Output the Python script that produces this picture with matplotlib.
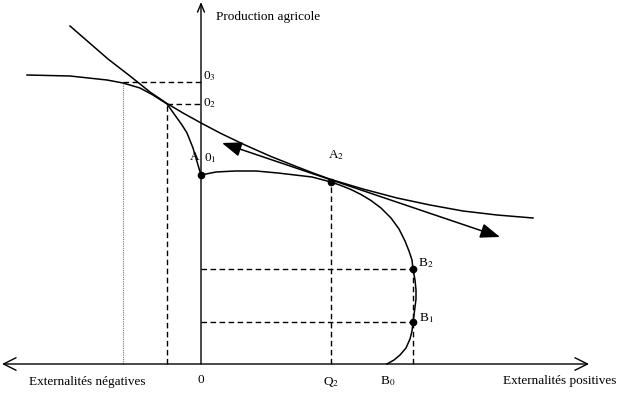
import matplotlib.pyplot as plt

plt.rcParams['font.family'] = ['Liberation Serif', 'DejaVu Serif']
plt.rcParams['mathtext.fontset'] = 'stix'

# frontier (left branch down to A, then right branch down to B0)
frontier_x = [-174, -131, -94, -78, -61, -48, -34, -24, -19, -14, -8, -3, 0,
              15, 34, 55, 77, 111, 130, 140, 150, 160, 170, 180, 190, 198, 204, 208, 211, 212,
              214, 215, 215, 214, 213, 212, 211, 209, 205, 199, 193, 186]
frontier_y = [289, 288, 284, 281, 276, 269, 260, 246, 239, 231, 216, 199, 189,
              192, 193, 193, 191, 187, 182, 178.5, 174.5, 169.5, 163.5, 156, 146, 135, 123, 113, 104, 95,
              84, 74, 65, 57, 49, 42, 33, 25, 16, 9, 4, 0]

# indifference curve
indiff_x = [-131, -93, -71, -51, -34, -18, 1, 20, 44, 70, 94, 112, 130, 162, 196, 229, 262, 296, 332]
indiff_y = [338, 305, 288, 272, 260.5, 251, 240.5, 230.5, 219, 207.5, 198, 191, 184.5, 175, 166, 159, 153, 149, 146]

# price line (double arrow)
price_x = [21, 299]
price_y = [221, 127]

# marked points
pts_x = [0, 130, 212, 212]
pts_y = [189, 182, 95, 42]

O3, O2 = 282, 260
x_O3, x_O2 = -78, -34
Q2 = 130
B2, B1 = 95, 42
xB = 212

fig = plt.figure(figsize=(6.26, 3.94), dpi=100)
ax = fig.add_axes([0, 0, 1, 1])
ax.set_xlim(-201, 425)
ax.set_ylim(-30, 364)
ax.axis('off')

# axes with open arrows
ax.annotate('', xy=(-199, 0), xytext=(388, 0),
            arrowprops=dict(arrowstyle='<->,head_length=9,head_width=4.5', lw=1, color='black',
                            mutation_scale=1, shrinkA=0, shrinkB=0))
ax.annotate('', xy=(0, 362), xytext=(0, 0),
            arrowprops=dict(arrowstyle='->,head_length=6,head_width=2.5', lw=1, color='black',
                            mutation_scale=1, shrinkA=0, shrinkB=0))

# dashed guides
ds = (0, (4, 2.5))
ax.plot([x_O3, 0], [O3, O3], color='black', lw=1, ls=ds)
ax.plot([x_O3, x_O3], [0, O3], color='#777777', lw=0.8, ls=(0, (1, 1)))
ax.plot([x_O2, 0], [O2, O2], color='black', lw=1, ls=ds)
ax.plot([x_O2, x_O2], [0, O2], color='black', lw=1, ls=ds)
ax.plot([Q2, Q2], [0, 182], color='black', lw=1, ls=ds)
ax.plot([0, xB], [B2, B2], color='black', lw=1, ls=ds)
ax.plot([0, xB], [B1, B1], color='black', lw=1, ls=ds)
ax.plot([xB, xB], [0, B2], color='black', lw=1, ls=ds)

# curves
ax.plot(frontier_x, frontier_y, color='black', lw=1.1)
ax.plot(indiff_x, indiff_y, color='black', lw=1.1)
ax.annotate('', xy=(price_x[0], price_y[0]), xytext=(price_x[1], price_y[1]),
            arrowprops=dict(arrowstyle='<|-|>,head_length=12,head_width=4.5', lw=1.1, color='black',
                            mutation_scale=1, shrinkA=0, shrinkB=0))
ax.plot(pts_x, pts_y, 'o', color='black', ms=4.5)

# labels
fs = 9.5
ax.text(15, 347, 'Production agricole', fontsize=fs, va='center')
ax.text(2, 288, '0$_3$', fontsize=fs, va='center')
ax.text(2, 261, '0$_2$', fontsize=fs, va='center')
ax.text(3, 206, '0$_1$', fontsize=fs, va='center')
ax.text(-1, 207, 'A', fontsize=fs, va='center', ha='right')
ax.text(135, 209, 'A$_2$', fontsize=fs, va='center', ha='center')
ax.text(217, 101, 'B$_2$', fontsize=fs, va='center')
ax.text(218, 46, 'B$_1$', fontsize=fs, va='center')
ax.text(0, -16, '0', fontsize=fs, va='center', ha='center')
ax.text(130, -18, 'Q$_2$', fontsize=fs, va='center', ha='center')
ax.text(187, -17, 'B$_0$', fontsize=fs, va='center', ha='center')
ax.text(-114, -18, 'Externalités négatives', fontsize=fs, va='center', ha='center')
ax.text(359, -17, 'Externalités positives', fontsize=fs, va='center', ha='center')

fig.savefig('out.png', dpi=100)
